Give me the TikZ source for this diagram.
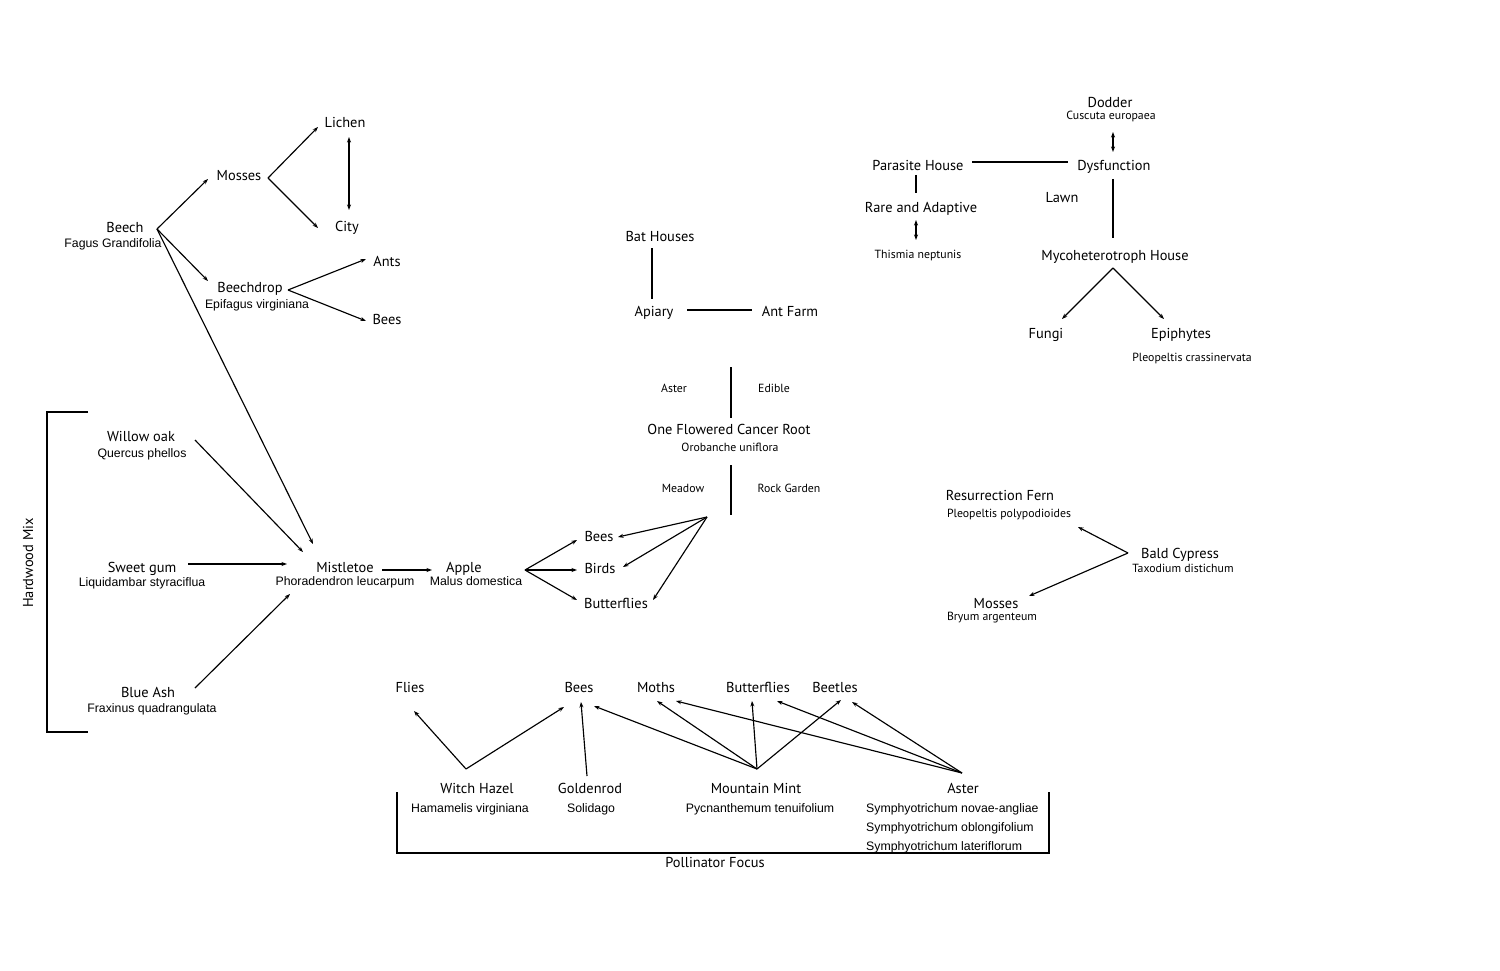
\documentclass[tikz,border=0pt]{standalone}
\usepackage{fontspec}
\usetikzlibrary{arrows.meta}
\newfontfamily\myr{PT Sans}
\newfontfamily\ari{Liberation Sans}
\tikzset{
 base/.style={inner sep=0pt, text=black, text depth=0pt},
 main/.style={base, font=\myr\fontsize{14.4}{17}\selectfont, text height=10pt},
 spa/.style={base, font=\ari\fontsize{12.3}{14}\selectfont, text height=8.8pt},
 spm/.style={base, font=\myr\fontsize{11.8}{14}\selectfont, text height=8.4pt},
 arr/.style={line width=1.15pt, -{Stealth[length=5.5pt,width=4pt]}},
 darr/.style={line width=1.15pt, {Stealth[length=5.5pt,width=4pt]}-{Stealth[length=5.5pt,width=4pt]}},
 ln/.style={line width=1.15pt},
}
\begin{document}
\begin{tikzpicture}[x=1pt,y=-1pt]
\useasboundingbox (0,0) rectangle (1500,971);
\fill[white] (0,0) rectangle (1500,971);

% ---------- Beech group ----------
\node[main] (beech) at (125,228) {Beech};
\node[spa] (beechsp) at (113,243) {Fagus Grandifolia};
\node[main] (mosses) at (239,175) {Mosses};
\node[main] (lichen) at (345,123) {Lichen};
\node[main] (city) at (347,226) {City};
\node[main] (bdrop) at (250,287) {Beechdrop};
\node[spa] (bdropsp) at (257,304) {Epifagus virginiana};
\node[main] (ants) at (387,261) {Ants};
\node[main] (bees1) at (387,319) {Bees};

\coordinate (beechH) at (157,229);
\coordinate (mossesIn) at (208,179);
\coordinate (bdropIn) at (208,281);
\coordinate (mossesH) at (268,178);
\coordinate (lichenIn) at (318,127);
\coordinate (cityIn) at (318,228);
\coordinate (lichenB) at (349,137);
\coordinate (cityT) at (349,210);
\coordinate (bdropH) at (288,290);
\coordinate (antsIn) at (366,259);
\coordinate (beesIn) at (366,321);
\coordinate (mistIn1) at (313,544);

\draw[arr] (beechH) -- (mossesIn);
\draw[arr] (beechH) -- (bdropIn);
\draw[arr] (beechH) -- (mistIn1);
\draw[arr] (mossesH) -- (lichenIn);
\draw[arr] (mossesH) -- (cityIn);
\draw[darr] (lichenB) -- (cityT);
\draw[arr] (bdropH) -- (antsIn);
\draw[arr] (bdropH) -- (beesIn);

% ---------- Hardwood mix ----------
\node[main] (willow) at (141,436) {Willow oak};
\node[spa] (willowsp) at (142,453) {Quercus phellos};
\node[main] (sweet) at (142,567) {Sweet gum};
\node[spa] (sweetsp) at (142,582) {Liquidambar styraciflua};
\node[main] (blueash) at (148,692) {Blue Ash};
\node[spa] (blueashsp) at (152,708) {Fraxinus quadrangulata};
\node[main, rotate=90] (hardwood) at (28,563) {Hardwood Mix};
\coordinate (hbT) at (88,412);
\coordinate (hbB) at (88,732);
\draw[ln] (hbT) -- (47,412) -- (47,732) -- (hbB);

\node[main] (mist) at (345,567) {Mistletoe};
\node[spa] (mistsp) at (345,581) {Phoradendron leucarpum};
\node[main] (apple) at (464,567) {Apple};
\node[spa] (applesp) at (476,581) {Malus domestica};

\coordinate (willowOut) at (195,440);
\coordinate (mistIn2) at (303,552);
\coordinate (sweetOut) at (188,564);
\coordinate (mistIn3) at (287,564);
\coordinate (ashOut) at (195,688);
\coordinate (mistIn4) at (290,594);
\coordinate (mistOut) at (382,570);
\coordinate (appleIn) at (432,570);
\draw[arr] (willowOut) -- (mistIn2);
\draw[arr] (sweetOut) -- (mistIn3);
\draw[arr] (ashOut) -- (mistIn4);
\draw[arr] (mistOut) -- (appleIn);

\node[main] (bees2) at (599,536) {Bees};
\node[main] (birds) at (600,568) {Birds};
\node[main] (bfly1) at (616,603) {Butterflies};
\coordinate (appleH) at (525,570);
\draw[arr] (appleH) -- (577,540) coordinate (bees2L);
\draw[arr] (appleH) -- (577,570) coordinate (birdsL);
\draw[arr] (appleH) -- (577,600) coordinate (bfly1L);
\coordinate (orobH) at (707,517);
\draw[arr] (orobH) -- (618,537) coordinate (bees2R);
\draw[arr] (orobH) -- (623,567) coordinate (birdsR);
\draw[arr] (orobH) -- (653,600) coordinate (bfly1R);

% ---------- Middle top ----------
\node[main] (bat) at (660,236) {Bat Houses};
\node[main] (apiary) at (654,311) {Apiary};
\node[main] (antfarm) at (790,311) {Ant Farm};
\draw[ln] (652,248) coordinate (batB) -- (652,299) coordinate (apiaryT);
\draw[ln] (687,310) coordinate (apiaryR) -- (752,310) coordinate (antfarmL);

\node[spm] (aster1) at (674,388) {Aster};
\node[spm] (edible) at (774,388) {Edible};
\node[main] (orob) at (729,429) {One Flowered Cancer Root};
\node[spm] (orobsp) at (730,447) {Orobanche uniflora};
\node[spm] (meadow) at (683,488) {Meadow};
\node[spm] (rock) at (789,488) {Rock Garden};
\draw[ln] (731,367) coordinate (divTt) -- (731,418) coordinate (orobT);
\draw[ln] (731,465) coordinate (orobB) -- (731,515) coordinate (divBb);

% ---------- Top right ----------
\node[main] (dodder) at (1110,103) {Dodder};
\node[spm] (doddersp) at (1111,115) {Cuscuta europaea};
\node[main] (parasite) at (918,166) {Parasite House};
\node[main] (dysf) at (1114,166) {Dysfunction};
\node[main] (lawn) at (1062,197) {Lawn};
\node[main] (rare) at (921,207) {Rare and Adaptive};
\node[spm] (thismia) at (918,254) {Thismia neptunis};
\node[main] (myco) at (1115,255) {Mycoheterotroph House};
\node[main] (fungi) at (1046,333) {Fungi};
\node[main] (epi) at (1181,333) {Epiphytes};
\node[spm] (episp) at (1192,357) {Pleopeltis crassinervata};

\draw[darr] (1113,132) coordinate (dodderB) -- (1113,152) coordinate (dysfT);
\draw[ln] (972,162) coordinate (parR) -- (1068,162) coordinate (dysfL);
\draw[ln] (916,175) coordinate (parB) -- (916,193) coordinate (rareT);
\draw[darr] (916,220) coordinate (rareB) -- (916,240) coordinate (thisT);
\draw[ln] (1113,179) coordinate (dysfB) -- (1113,238) coordinate (mycoT);
\coordinate (mycoH) at (1113,268);
\draw[arr] (mycoH) -- (1062,319) coordinate (fungiIn);
\draw[arr] (mycoH) -- (1164,319) coordinate (epiIn);

% ---------- Bald cypress ----------
\node[main] (resf) at (1000,495) {Resurrection Fern};
\node[spm] (resfsp) at (1009,513) {Pleopeltis polypodioides};
\node[main] (cypress) at (1180,553) {Bald Cypress};
\node[spm] (cypresssp) at (1183,568) {Taxodium distichum};
\node[main] (mosses2) at (996,603) {Mosses};
\node[spm] (mosses2sp) at (992,616) {Bryum argenteum};
\coordinate (cypH) at (1128,553);
\draw[arr] (cypH) -- (1078,527) coordinate (resfIn);
\draw[arr] (cypH) -- (1029,596) coordinate (mosses2In);

% ---------- Pollinator focus ----------
\node[main] (flies) at (410,687) {Flies};
\node[main] (bees3) at (579,687) {Bees};
\node[main] (moths) at (656,687) {Moths};
\node[main] (bfly2) at (758,687) {Butterflies};
\node[main] (beetles) at (835,687) {Beetles};

\node[main] (witch) at (477,788) {Witch Hazel};
\node[spa] (witchsp) at (470,808) {Hamamelis virginiana};
\node[main] (gold) at (590,788) {Goldenrod};
\node[spa] (goldsp) at (591,808) {Solidago};
\node[main] (mint) at (756,788) {Mountain Mint};
\node[spa] (mintsp) at (760,808) {Pycnanthemum tenuifolium};
\node[main] (aster2) at (963,788) {Aster};
\node[spa, anchor=west] (asp1) at (866,808) {Symphyotrichum novae-angliae};
\node[spa, anchor=west] (asp2) at (866,827) {Symphyotrichum oblongifolium};
\node[spa, anchor=west] (asp3) at (866,846) {Symphyotrichum lateriflorum};
\node[main] (pollf) at (715,862) {Pollinator Focus};
\draw[ln] (397,792) coordinate (pbL) -- (397,853) -- (1049,853) -- (1049,792) coordinate (pbR);

\coordinate (witchH) at (466,769);
\draw[arr] (witchH) -- (414,711) coordinate (fliesIn);
\draw[arr] (witchH) -- (564,707) coordinate (bees3In1);
\draw[arr] (587,776) coordinate (goldT) -- (581,702) coordinate (bees3In2);
\coordinate (mintH) at (757,769);
\draw[arr] (mintH) -- (594,706) coordinate (bees3In3);
\draw[arr] (mintH) -- (657,701) coordinate (mothsIn1);
\draw[arr] (mintH) -- (752,701) coordinate (bfly2In1);
\draw[arr] (mintH) -- (841,700) coordinate (beetlesIn1);
\coordinate (asterH) at (962,773);
\draw[arr] (asterH) -- (676,701) coordinate (mothsIn2);
\draw[arr] (asterH) -- (777,701) coordinate (bfly2In2);
\draw[arr] (asterH) -- (852,702) coordinate (beetlesIn2);
\end{tikzpicture}
\end{document}
